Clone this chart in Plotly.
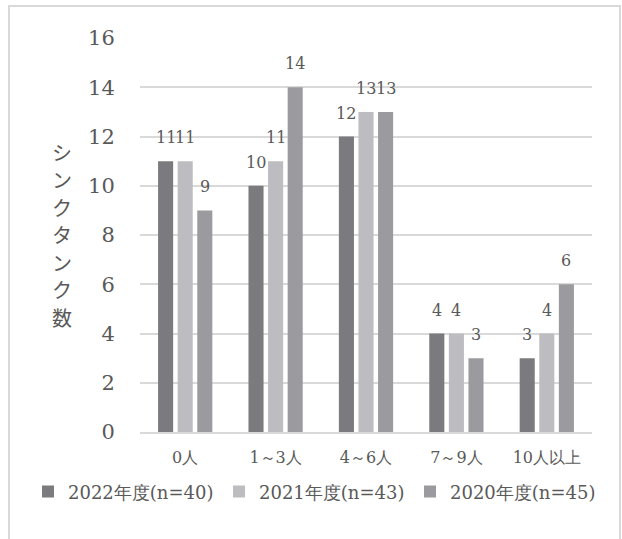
import plotly.graph_objects as go

categories = ["0人", "1～3人", "4～6人", "7～9人", "10人以上"]
series_names = ["2022年度(n=40)", "2021年度(n=43)", "2020年度(n=45)"]
v2022 = [11, 10, 12, 4, 3]
v2021 = [11, 11, 13, 4, 4]
v2020 = [9, 14, 13, 3, 6]
y_ticks = [0, 2, 4, 6, 8, 10, 12, 14, 16]
y_title = "シンクタンク数"

colors = ["#7b7b7f", "#bdbdc1", "#9b9b9f"]
FONT = "DejaVu Serif, serif"
TXT = "#595959"

fig = go.Figure()
all_vals = [v2022, v2021, v2020]
for name, vals, c in zip(series_names, all_vals, colors):
    fig.add_trace(go.Bar(x=categories, y=vals, name=name, marker_color=c,
                         marker_line_width=0))

W, H = 622, 539
L, R, T, B = 140, 30, 38, 107
pw = W - L - R
ph = H - T - B
slot = pw / len(categories) * 0.65 / 3

annotations = []
for i, vals in enumerate(all_vals):
    for cat, v in zip(categories, vals):
        annotations.append(dict(x=cat, y=v, xref="x", yref="y", text=str(v),
                                showarrow=False, xshift=(i - 1) * slot,
                                yanchor="bottom", yshift=12,
                                font=dict(family=FONT, size=16, color=TXT)))

chars = list(y_title)
step = 27.5
for k, ch in enumerate(chars):
    annotations.append(dict(xref="paper", yref="paper", x=(62 - L) / pw,
                            y=(H - B - (152 + k * step)) / ph,
                            text=ch, showarrow=False,
                            xanchor="center", yanchor="middle",
                            font=dict(family="Noto Sans CJK JP", size=20, color=TXT)))

fig.update_layout(
    width=W, height=H,
    margin=dict(l=L, r=R, t=T, b=B),
    paper_bgcolor="white", plot_bgcolor="white",
    barmode="group", bargap=0.35, bargroupgap=0.23,
    font=dict(family=FONT, color=TXT),
    showlegend=True,
    legend=dict(orientation="h", x=(28 - L) / pw, xanchor="left",
                y=-0.105, yanchor="top", font=dict(family=FONT, size=18, color=TXT),
                entrywidth=146, tracegroupgap=0, traceorder="normal"),
    annotations=annotations,
    shapes=[dict(type="rect", xref="paper", yref="paper",
                 x0=(9 - L) / pw, x1=(620 - L) / pw,
                 y0=-(H + 20 - T - ph) / ph, y1=(H - B - 6) / ph,
                 line=dict(color="#d9d9d9", width=2), fillcolor="rgba(0,0,0,0)",
                 layer="below")],
)
fig.update_yaxes(range=[0, 16], tickvals=y_ticks, showgrid=True,
                 gridcolor="#d9d9d9", gridwidth=1.5, zeroline=False,
                 showline=False, ticks="outside", ticklen=20,
                 tickcolor="rgba(0,0,0,0)",
                 tickfont=dict(family=FONT, size=21, color=TXT))
fig.update_xaxes(showline=True, linecolor="#d9d9d9", linewidth=1.5,
                 ticks="outside", ticklen=10, tickcolor="rgba(0,0,0,0)",
                 tickfont=dict(family=FONT, size=16, color=TXT))

fig.write_html("out.html")
